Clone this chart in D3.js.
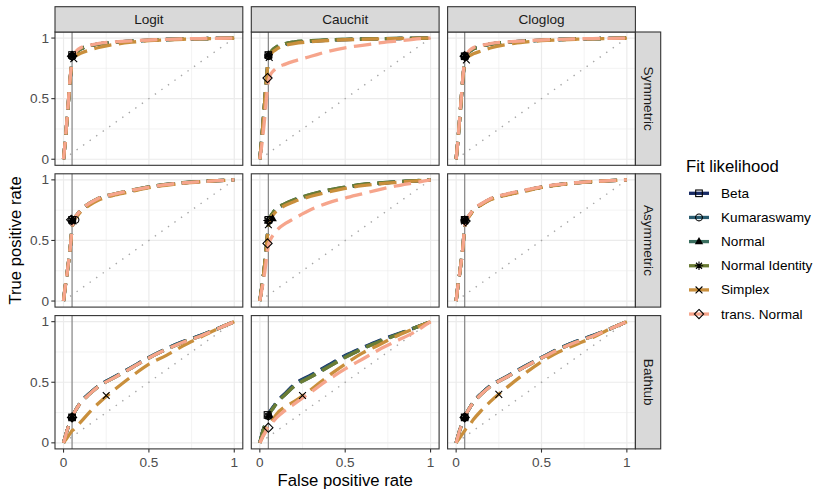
<!DOCTYPE html>
<html><head><meta charset="utf-8">
<script src="https://cdn.jsdelivr.net/npm/d3@7"></script>
<style>body{margin:0;background:#fff}svg{display:block;font-family:"Liberation Sans",Arial,sans-serif}</style>
</head><body><svg id="c" width="830" height="498"></svg>
<script>
// ---------- data ----------
const links = ["Logit", "Cauchit", "Cloglog"];
const scenarios = ["Symmetric", "Asymmetric", "Bathtub"];
const seriesNames = ["Beta", "Kumaraswamy", "Normal", "Normal Identity", "Simplex", "trans. Normal"];
const seriesColors = ["#172a64", "#2a5c70", "#3a6e5f", "#6b7c34", "#c98f3c", "#f6a58c"];
const axisTicks = [0, 0.5, 1];
const axisTickLabels = ["0", "0.5", "1"];
const minorTicks = [0.25, 0.75];
const cutoff = 0.05;
const fpr = [0, 0.01, 0.02, 0.03, 0.04, 0.05, 0.06, 0.08, 0.1, 0.15, 0.2, 0.3, 0.4, 0.5, 0.6, 0.7, 0.8, 0.9, 1];

// TPR per series (Beta, Kumaraswamy, Normal, Normal Identity, Simplex, trans. Normal)
const tpr_Logit_Symmetric = [
  [0,0.15,0.32,0.5,0.68,0.8,0.85,0.89,0.91,0.935,0.95,0.965,0.975,0.982,0.988,0.992,0.995,0.998,1],
  [0,0.15,0.32,0.5,0.68,0.8,0.85,0.89,0.91,0.935,0.95,0.965,0.975,0.982,0.988,0.992,0.995,0.998,1],
  [0,0.15,0.32,0.5,0.68,0.8,0.85,0.89,0.91,0.935,0.95,0.965,0.975,0.982,0.988,0.992,0.995,0.998,1],
  [0,0.15,0.32,0.5,0.68,0.8,0.85,0.89,0.91,0.935,0.95,0.965,0.975,0.982,0.988,0.992,0.995,0.998,1],
  [0,0.15,0.32,0.5,0.68,0.8,0.84,0.86,0.875,0.9,0.92,0.948,0.966,0.978,0.985,0.99,0.994,0.997,1],
  [0,0.15,0.33,0.51,0.69,0.81,0.86,0.9,0.92,0.94,0.955,0.968,0.977,0.984,0.989,0.993,0.996,0.998,1]
];
const tpr_Cauchit_Symmetric = [
  [0,0.15,0.32,0.5,0.68,0.82,0.87,0.905,0.925,0.95,0.962,0.975,0.982,0.987,0.991,0.994,0.996,0.998,1],
  [0,0.15,0.32,0.5,0.68,0.82,0.87,0.905,0.925,0.95,0.962,0.975,0.982,0.987,0.991,0.994,0.996,0.998,1],
  [0,0.15,0.32,0.5,0.68,0.82,0.875,0.91,0.93,0.955,0.967,0.978,0.985,0.989,0.992,0.995,0.997,0.998,1],
  [0,0.15,0.32,0.5,0.68,0.82,0.875,0.91,0.93,0.955,0.967,0.978,0.985,0.989,0.992,0.995,0.997,0.998,1],
  [0,0.15,0.32,0.5,0.68,0.82,0.86,0.89,0.91,0.94,0.955,0.97,0.98,0.986,0.99,0.993,0.996,0.998,1],
  [0,0.1,0.22,0.36,0.52,0.64,0.69,0.73,0.755,0.785,0.81,0.85,0.89,0.92,0.94,0.96,0.975,0.99,1]
];
const tpr_Cloglog_Symmetric = [
  [0,0.15,0.32,0.5,0.68,0.8,0.85,0.89,0.91,0.935,0.95,0.965,0.975,0.982,0.988,0.992,0.995,0.998,1],
  [0,0.15,0.32,0.5,0.68,0.8,0.85,0.89,0.91,0.935,0.95,0.965,0.975,0.982,0.988,0.992,0.995,0.998,1],
  [0,0.15,0.32,0.5,0.68,0.8,0.85,0.89,0.91,0.935,0.95,0.965,0.975,0.982,0.988,0.992,0.995,0.998,1],
  [0,0.15,0.32,0.5,0.68,0.8,0.85,0.89,0.91,0.935,0.95,0.965,0.975,0.982,0.988,0.992,0.995,0.998,1],
  [0,0.15,0.32,0.5,0.68,0.79,0.83,0.855,0.87,0.895,0.918,0.948,0.966,0.978,0.985,0.99,0.994,0.997,1],
  [0,0.15,0.33,0.51,0.69,0.81,0.86,0.9,0.92,0.94,0.955,0.968,0.977,0.984,0.989,0.993,0.996,0.998,1]
];
const tpr_Logit_Asymmetric = [
  [0,0.12,0.22,0.33,0.45,0.6,0.67,0.71,0.745,0.8,0.84,0.88,0.91,0.94,0.96,0.975,0.985,0.993,1],
  [0,0.12,0.22,0.33,0.45,0.6,0.67,0.71,0.745,0.8,0.84,0.88,0.91,0.94,0.96,0.975,0.985,0.993,1],
  [0,0.12,0.22,0.33,0.45,0.6,0.67,0.715,0.75,0.805,0.845,0.885,0.915,0.942,0.962,0.976,0.986,0.993,1],
  [0,0.12,0.22,0.33,0.45,0.6,0.67,0.715,0.75,0.805,0.845,0.885,0.915,0.942,0.962,0.976,0.986,0.993,1],
  [0,0.12,0.22,0.33,0.45,0.6,0.66,0.7,0.735,0.79,0.83,0.875,0.905,0.935,0.955,0.972,0.984,0.993,1],
  [0,0.12,0.22,0.33,0.45,0.6,0.67,0.715,0.75,0.805,0.845,0.885,0.915,0.94,0.96,0.975,0.985,0.993,1]
];
const tpr_Cauchit_Asymmetric = [
  [0,0.1,0.2,0.32,0.47,0.62,0.68,0.73,0.76,0.8,0.83,0.875,0.91,0.935,0.958,0.97,0.982,0.99,1],
  [0,0.1,0.2,0.32,0.47,0.62,0.68,0.73,0.76,0.8,0.83,0.875,0.91,0.935,0.958,0.97,0.982,0.99,1],
  [0,0.1,0.2,0.32,0.47,0.62,0.685,0.735,0.765,0.805,0.835,0.88,0.915,0.94,0.962,0.974,0.985,0.992,1],
  [0,0.1,0.2,0.32,0.47,0.62,0.685,0.735,0.765,0.805,0.835,0.88,0.915,0.94,0.962,0.974,0.985,0.992,1],
  [0,0.1,0.2,0.32,0.47,0.62,0.67,0.715,0.745,0.79,0.82,0.865,0.9,0.93,0.952,0.968,0.98,0.99,1],
  [0,0.08,0.16,0.25,0.36,0.46,0.5,0.55,0.585,0.64,0.68,0.755,0.81,0.85,0.885,0.92,0.95,0.975,1]
];
const tpr_Cloglog_Asymmetric = [
  [0,0.12,0.22,0.33,0.45,0.62,0.67,0.71,0.75,0.8,0.84,0.88,0.91,0.94,0.96,0.975,0.985,0.993,1],
  [0,0.12,0.22,0.33,0.45,0.62,0.67,0.71,0.75,0.8,0.84,0.88,0.91,0.94,0.96,0.975,0.985,0.993,1],
  [0,0.12,0.22,0.33,0.45,0.62,0.67,0.71,0.75,0.8,0.84,0.88,0.91,0.94,0.96,0.975,0.985,0.993,1],
  [0,0.12,0.22,0.33,0.45,0.62,0.67,0.71,0.75,0.8,0.84,0.88,0.91,0.94,0.96,0.975,0.985,0.993,1],
  [0,0.12,0.22,0.33,0.45,0.61,0.66,0.705,0.745,0.795,0.835,0.875,0.905,0.937,0.958,0.974,0.985,0.993,1],
  [0,0.12,0.22,0.33,0.45,0.62,0.67,0.715,0.755,0.805,0.845,0.885,0.915,0.942,0.962,0.976,0.986,0.993,1]
];
const tpr_Logit_Bathtub = [
  [0,0.05,0.1,0.14,0.18,0.21,0.24,0.29,0.335,0.405,0.465,0.545,0.625,0.705,0.775,0.835,0.885,0.942,1],
  [0,0.05,0.1,0.14,0.18,0.21,0.24,0.29,0.335,0.405,0.465,0.545,0.625,0.705,0.775,0.835,0.885,0.942,1],
  [0,0.05,0.1,0.14,0.18,0.21,0.24,0.29,0.33,0.4,0.46,0.54,0.62,0.7,0.77,0.83,0.88,0.94,1],
  [0,0.05,0.1,0.14,0.18,0.21,0.24,0.29,0.33,0.4,0.46,0.54,0.62,0.7,0.77,0.83,0.88,0.94,1],
  [0,0.02,0.04,0.06,0.08,0.1,0.11,0.14,0.17,0.25,0.32,0.44,0.55,0.65,0.72,0.8,0.87,0.94,1],
  [0,0.05,0.1,0.14,0.18,0.21,0.24,0.29,0.33,0.4,0.46,0.54,0.62,0.7,0.77,0.83,0.88,0.94,1]
];
const tpr_Cauchit_Bathtub = [
  [0,0.06,0.11,0.15,0.19,0.23,0.26,0.3,0.34,0.41,0.48,0.56,0.64,0.72,0.785,0.845,0.895,0.945,1],
  [0,0.055,0.105,0.145,0.185,0.225,0.255,0.295,0.335,0.405,0.475,0.555,0.635,0.715,0.78,0.84,0.892,0.945,1],
  [0,0.055,0.105,0.145,0.18,0.22,0.25,0.29,0.33,0.4,0.465,0.545,0.625,0.705,0.775,0.835,0.89,0.945,1],
  [0,0.055,0.105,0.145,0.18,0.22,0.25,0.29,0.33,0.4,0.465,0.545,0.625,0.705,0.775,0.835,0.89,0.945,1],
  [0,0.03,0.06,0.09,0.12,0.14,0.16,0.2,0.24,0.3,0.34,0.44,0.55,0.65,0.74,0.81,0.88,0.94,1],
  [0,0.03,0.06,0.08,0.11,0.135,0.15,0.18,0.21,0.27,0.32,0.42,0.52,0.61,0.69,0.77,0.84,0.91,1]
];
const tpr_Cloglog_Bathtub = [
  [0,0.05,0.1,0.14,0.18,0.21,0.24,0.29,0.335,0.41,0.47,0.55,0.63,0.705,0.775,0.835,0.885,0.94,1],
  [0,0.05,0.1,0.14,0.18,0.21,0.24,0.29,0.335,0.41,0.47,0.55,0.63,0.705,0.775,0.835,0.885,0.94,1],
  [0,0.05,0.1,0.14,0.18,0.21,0.24,0.29,0.33,0.405,0.465,0.545,0.625,0.7,0.77,0.83,0.88,0.94,1],
  [0,0.05,0.1,0.14,0.18,0.21,0.24,0.29,0.33,0.405,0.465,0.545,0.625,0.7,0.77,0.83,0.88,0.94,1],
  [0,0.02,0.04,0.06,0.08,0.1,0.12,0.15,0.19,0.27,0.34,0.46,0.57,0.67,0.75,0.81,0.87,0.94,1],
  [0,0.05,0.1,0.14,0.18,0.21,0.24,0.29,0.33,0.405,0.465,0.545,0.625,0.7,0.77,0.83,0.88,0.94,1]
];

// operating points (FPR, TPR) per series
const ptx_Logit_Symmetric = [0.05,0.05,0.05,0.05,0.06,0.05];
const pty_Logit_Symmetric = [0.86,0.85,0.86,0.85,0.83,0.85];
const ptx_Cauchit_Symmetric = [0.05,0.05,0.05,0.05,0.055,0.045];
const pty_Cauchit_Symmetric = [0.86,0.85,0.86,0.86,0.84,0.67];
const ptx_Cloglog_Symmetric = [0.05,0.05,0.05,0.05,0.06,0.05];
const pty_Cloglog_Symmetric = [0.85,0.85,0.85,0.85,0.82,0.85];
const ptx_Logit_Asymmetric = [0.05,0.07,0.05,0.05,0.055,0.045];
const pty_Logit_Asymmetric = [0.67,0.67,0.67,0.66,0.66,0.67];
const ptx_Cauchit_Asymmetric = [0.05,0.055,0.075,0.045,0.05,0.045];
const pty_Cauchit_Asymmetric = [0.67,0.665,0.68,0.665,0.63,0.475];
const ptx_Cloglog_Asymmetric = [0.05,0.05,0.05,0.05,0.05,0.055];
const pty_Cloglog_Asymmetric = [0.67,0.67,0.67,0.67,0.66,0.66];
const ptx_Logit_Bathtub = [0.05,0.05,0.05,0.05,0.25,0.05];
const pty_Logit_Bathtub = [0.21,0.21,0.21,0.21,0.39,0.21];
const ptx_Cauchit_Bathtub = [0.045,0.05,0.055,0.05,0.25,0.05];
const pty_Cauchit_Bathtub = [0.23,0.22,0.23,0.22,0.39,0.125];
const ptx_Cloglog_Bathtub = [0.05,0.05,0.05,0.05,0.25,0.05];
const pty_Cloglog_Bathtub = [0.21,0.21,0.21,0.21,0.40,0.21];

const panelData = {
  Logit_Symmetric: [tpr_Logit_Symmetric, ptx_Logit_Symmetric, pty_Logit_Symmetric],
  Cauchit_Symmetric: [tpr_Cauchit_Symmetric, ptx_Cauchit_Symmetric, pty_Cauchit_Symmetric],
  Cloglog_Symmetric: [tpr_Cloglog_Symmetric, ptx_Cloglog_Symmetric, pty_Cloglog_Symmetric],
  Logit_Asymmetric: [tpr_Logit_Asymmetric, ptx_Logit_Asymmetric, pty_Logit_Asymmetric],
  Cauchit_Asymmetric: [tpr_Cauchit_Asymmetric, ptx_Cauchit_Asymmetric, pty_Cauchit_Asymmetric],
  Cloglog_Asymmetric: [tpr_Cloglog_Asymmetric, ptx_Cloglog_Asymmetric, pty_Cloglog_Asymmetric],
  Logit_Bathtub: [tpr_Logit_Bathtub, ptx_Logit_Bathtub, pty_Logit_Bathtub],
  Cauchit_Bathtub: [tpr_Cauchit_Bathtub, ptx_Cauchit_Bathtub, pty_Cauchit_Bathtub],
  Cloglog_Bathtub: [tpr_Cloglog_Bathtub, ptx_Cloglog_Bathtub, pty_Cloglog_Bathtub]
};

// ---------- layout ----------
const svg = d3.select("#c");
const pLeft = 55, pTop = 32, pW = 187.8, pH = 133.3, gap = 8.5, stripH = 25.3;
const gridCol = "#EBEBEB", borderCol = "#333333";
const smallFont = 13.6, bigFont = 16.7;

function drawMarker(g, shape, cx, cy) {
  const s = g.append("g").attr("transform", `translate(${cx},${cy})`)
    .attr("fill", "none").attr("stroke", "#000").attr("stroke-width", 1.1);
  if (shape === 0) s.append("rect").attr("x", -3.3).attr("y", -3.3).attr("width", 6.6).attr("height", 6.6);
  else if (shape === 1) s.append("circle").attr("r", 3.4);
  else if (shape === 2) s.append("path").attr("d", "M0,-4.6L4.2,2.7L-4.2,2.7Z").attr("fill", "#000").attr("stroke", "none");
  else if (shape === 3) s.append("path").attr("d", "M-4.2,0H4.2M0,-4.2V4.2M-3,-3L3,3M-3,3L3,-3");
  else if (shape === 4) s.append("path").attr("d", "M-3.4,-3.4L3.4,3.4M-3.4,3.4L3.4,-3.4");
  else if (shape === 5) s.append("path").attr("d", "M0,-4.6L4.6,0L0,4.6L-4.6,0Z");
}

scenarios.forEach((scen, r) => {
  links.forEach((lk, c) => {
    const x0 = pLeft + c * (pW + gap), y0 = pTop + r * (pH + gap);
    const xs = d3.scaleLinear().domain([-0.05, 1.05]).range([x0, x0 + pW]);
    const ys = d3.scaleLinear().domain([-0.05, 1.05]).range([y0 + pH, y0]);
    const g = svg.append("g");
    const clipId = `clip${r}${c}`;
    svg.append("clipPath").attr("id", clipId).append("rect").attr("x", x0).attr("y", y0).attr("width", pW).attr("height", pH);
    g.append("rect").attr("x", x0).attr("y", y0).attr("width", pW).attr("height", pH).attr("fill", "#fff");
    minorTicks.forEach(t => {
      g.append("line").attr("x1", xs(t)).attr("x2", xs(t)).attr("y1", y0).attr("y2", y0 + pH).attr("stroke", gridCol).attr("stroke-width", 0.6);
      g.append("line").attr("y1", ys(t)).attr("y2", ys(t)).attr("x1", x0).attr("x2", x0 + pW).attr("stroke", gridCol).attr("stroke-width", 0.6);
    });
    axisTicks.forEach(t => {
      g.append("line").attr("x1", xs(t)).attr("x2", xs(t)).attr("y1", y0).attr("y2", y0 + pH).attr("stroke", gridCol).attr("stroke-width", 1.2);
      g.append("line").attr("y1", ys(t)).attr("y2", ys(t)).attr("x1", x0).attr("x2", x0 + pW).attr("stroke", gridCol).attr("stroke-width", 1.2);
    });
    g.append("line").attr("x1", xs(0)).attr("y1", ys(0)).attr("x2", xs(1)).attr("y2", ys(1))
      .attr("stroke", "#a6a6a6").attr("stroke-width", 1.4).attr("stroke-dasharray", "1.4,6.6");
    g.append("line").attr("x1", xs(cutoff)).attr("x2", xs(cutoff)).attr("y1", y0).attr("y2", y0 + pH)
      .attr("stroke", "#8c8c8c").attr("stroke-width", 1.3);
    const [tprs, px, py] = panelData[lk + "_" + scen];
    const line = d3.line().x((d, i) => xs(fpr[i])).y(d => ys(d)).curve(d3.curveMonotoneX);
    const lg = g.append("g").attr("clip-path", `url(#${clipId})`);
    tprs.forEach((tp, s) => {
      lg.append("path").attr("d", line(tp)).attr("fill", "none").attr("stroke", seriesColors[s])
        .attr("stroke-width", 3.3).attr("stroke-dasharray", "17.5,7.5");
    });
    seriesNames.forEach((nm, s) => drawMarker(g, s, xs(px[s]), ys(py[s])));
    g.append("rect").attr("x", x0).attr("y", y0).attr("width", pW).attr("height", pH)
      .attr("fill", "none").attr("stroke", borderCol).attr("stroke-width", 1.1);
    if (r === 0) {
      svg.append("rect").attr("x", x0).attr("y", y0 - stripH).attr("width", pW).attr("height", stripH)
        .attr("fill", "#D9D9D9").attr("stroke", borderCol).attr("stroke-width", 1.1);
      svg.append("text").attr("x", x0 + pW / 2).attr("y", y0 - stripH / 2).attr("text-anchor", "middle")
        .attr("dominant-baseline", "central").attr("font-size", smallFont).attr("fill", "#1A1A1A").text(lk);
    }
    if (c === links.length - 1) {
      const sx = x0 + pW;
      svg.append("rect").attr("x", sx).attr("y", y0).attr("width", stripH).attr("height", pH)
        .attr("fill", "#D9D9D9").attr("stroke", borderCol).attr("stroke-width", 1.1);
      svg.append("text").attr("transform", `translate(${sx + stripH / 2},${y0 + pH / 2}) rotate(90)`)
        .attr("text-anchor", "middle").attr("dominant-baseline", "central").attr("font-size", smallFont)
        .attr("fill", "#1A1A1A").text(scen);
    }
    if (c === 0) {
      axisTicks.forEach((t, i) => {
        svg.append("line").attr("x1", x0 - 3.7).attr("x2", x0).attr("y1", ys(t)).attr("y2", ys(t)).attr("stroke", borderCol).attr("stroke-width", 1.1);
        svg.append("text").attr("x", x0 - 6).attr("y", ys(t)).attr("text-anchor", "end").attr("dominant-baseline", "central")
          .attr("font-size", smallFont).attr("fill", "#4D4D4D").text(axisTickLabels[i]);
      });
    }
    if (r === scenarios.length - 1) {
      axisTicks.forEach((t, i) => {
        svg.append("line").attr("x1", xs(t)).attr("x2", xs(t)).attr("y1", y0 + pH).attr("y2", y0 + pH + 3.7).attr("stroke", borderCol).attr("stroke-width", 1.1);
        svg.append("text").attr("x", xs(t)).attr("y", y0 + pH + 17.8).attr("text-anchor", "middle")
          .attr("font-size", smallFont).attr("fill", "#4D4D4D").text(axisTickLabels[i]);
      });
    }
  });
});

const gridRight = pLeft + 3 * pW + 2 * gap;
svg.append("text").attr("x", (pLeft + gridRight) / 2).attr("y", 486).attr("text-anchor", "middle")
  .attr("font-size", bigFont).attr("fill", "#000").text("False positive rate");
const gridBottom = pTop + 3 * pH + 2 * gap;
svg.append("text").attr("transform", `translate(15,${(pTop + gridBottom) / 2}) rotate(-90)`)
  .attr("text-anchor", "middle").attr("dominant-baseline", "central").attr("font-size", bigFont).attr("fill", "#000").text("True positive rate");

const leg = svg.append("g");
leg.append("text").attr("x", 686).attr("y", 171.5).attr("font-size", bigFont).attr("fill", "#000").text("Fit likelihood");
seriesNames.forEach((nm, i) => {
  const y = 193.3 + i * 24.15;
  leg.append("line").attr("x1", 689).attr("x2", 709).attr("y1", y).attr("y2", y).attr("stroke", seriesColors[i]).attr("stroke-width", 3.3);
  drawMarker(leg, i, 699, y);
  leg.append("text").attr("x", 721).attr("y", y).attr("dominant-baseline", "central").attr("font-size", smallFont).attr("fill", "#000").text(nm);
});
</script></body></html>
